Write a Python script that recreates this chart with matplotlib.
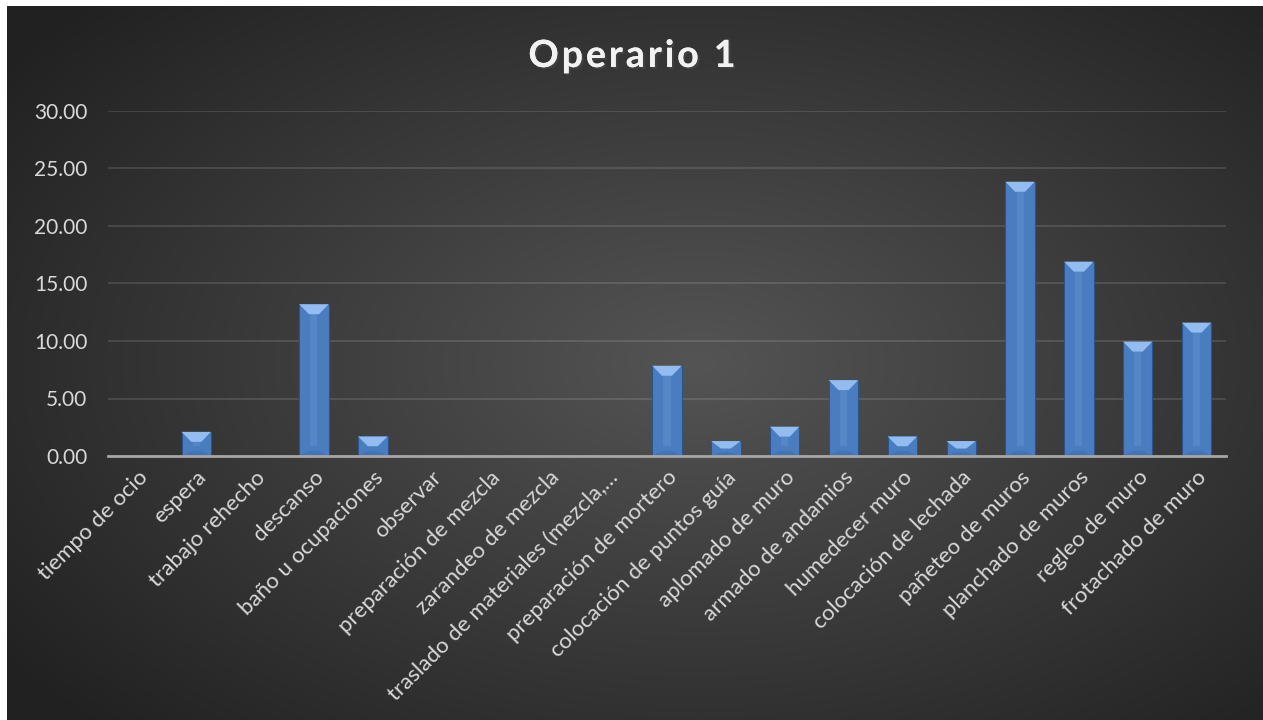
import matplotlib
matplotlib.use("Agg")
import matplotlib.pyplot as plt
import matplotlib.patheffects as pe
import numpy as np
from matplotlib.patches import Polygon

plt.rcParams["font.family"] = ["Lato", "DejaVu Sans"]

actividades = [
    "tiempo de ocio", "espera", "trabajo rehecho", "descanso", "baño u ocupaciones",
    "observar", "preparación de mezcla", "zarandeo de mezcla",
    "traslado de materiales (mezcla,…", "preparación de mortero",
    "colocación de puntos guía", "aplomado de muro", "armado de andamios",
    "humedecer muro", "colocación de lechada", "pañeteo de muros",
    "planchado de muros", "regleo de muro", "frotachado de muro",
]
porcentaje = [0.0, 2.1, 0.0, 13.2, 1.7, 0.0, 0.0, 0.0, 0.0, 7.85,
              1.3, 2.55, 6.6, 1.7, 1.3, 23.85, 16.9, 9.95, 11.6]
y_ticks = [0, 5, 10, 15, 20, 25, 30]

W, H = 1263, 720
fig = plt.figure(figsize=(W / 100, H / 100), dpi=100)
fig.patch.set_facecolor("white")

# fondo oscuro con degradado radial (estilo Excel)
bg = fig.add_axes([7 / W, 0, 1 - 7 / W, 1 - 6 / H])
gy, gx = np.mgrid[-1:1:400j, -1:1:700j]
r = np.clip(np.sqrt(((gx - 0.1) * 0.95) ** 2 + (gy * 0.9) ** 2) / 1.3, 0, 1)
centro, borde = np.array([0.33, 0.33, 0.33]), np.array([0.13, 0.13, 0.13])
img = centro[None, None, :] * (1 - r[..., None]) + borde[None, None, :] * r[..., None]
bg.imshow(img, aspect="auto", extent=[0, 1, 0, 1], interpolation="bilinear")
bg.set_axis_off()

ax = fig.add_axes([108 / W, 1 - 456 / H, (1226 - 108) / W, (456 - 111) / H])
ax.set_facecolor("none")
x = np.arange(len(actividades))
ancho = 0.5
ax.bar(x, porcentaje, width=ancho, color="#4a7dc0", edgecolor="#2c5488",
       linewidth=0.8, zorder=3)

# bisel de cada barra
px_y = 30 / (456 - 111)
for xi, h in zip(x, porcentaje):
    if h <= 0:
        continue
    d = min(10 * px_y, h / 2)
    dx = ancho * 0.33
    x0, x1 = xi - ancho / 2, xi + ancho / 2
    ax.add_patch(Polygon([(x0, h), (x1, h), (x1 - dx, h - d), (x0 + dx, h - d)],
                         closed=True, facecolor="#93bdf0", edgecolor="none", zorder=4))
    ax.add_patch(Polygon([(x0, 0), (x1, 0), (x1 - dx, d * 0.5), (x0 + dx, d * 0.5)],
                         closed=True, facecolor="#4274b3", edgecolor="none", zorder=4))
    ax.add_patch(Polygon([(xi - 0.06, d), (xi + 0.06, d), (xi + 0.06, h - d), (xi - 0.06, h - d)],
                         closed=True, facecolor="#6a9ad6", edgecolor="none", alpha=0.35, zorder=4))

ax.set_xlim(-0.5, len(actividades) - 0.5)
ax.set_ylim(0, 30)
ax.set_yticks(y_ticks)
ax.set_yticklabels([f"{v:.2f}" for v in y_ticks], fontsize=15, color="#d9d9d9")
ax.yaxis.grid(True, color="#ffffff", alpha=0.12, linewidth=1.4, zorder=0)
ax.set_axisbelow(True)
ax.tick_params(axis="y", length=0, pad=15)
ax.set_xticks(x)
ax.set_xticklabels(actividades, rotation=45, ha="right", va="top",
                   rotation_mode="anchor", fontsize=16, color="#d9d9d9")
ax.tick_params(axis="x", length=0, pad=8)
for lado in ["left", "right", "top"]:
    ax.spines[lado].set_visible(False)
ax.spines["bottom"].set_color("#a6a6a6")
ax.spines["bottom"].set_linewidth(2)
ax.spines["bottom"].set_zorder(5)

# título con espaciado entre letras
titulo = "Operario 1"
estilo = dict(fontsize=27, fontweight="bold", color="#f2f2f2",
              path_effects=[pe.withSimplePatchShadow(offset=(1.5, -1.5), alpha=0.6), pe.Normal()])
renderer = fig.canvas.get_renderer()
espacio = 3
anchos = []
for c in titulo:
    t = fig.text(0, 0, c if c != " " else "\u00a0", **estilo)
    anchos.append(t.get_window_extent(renderer).width)
    t.remove()
total = sum(anchos) + espacio * (len(titulo) - 1)
xpos = 632 - total / 2
for c, w in zip(titulo, anchos):
    fig.text(xpos / W, 1 - 67 / H, c, ha="left", va="baseline", **estilo)
    xpos += w + espacio

fig.savefig("out.png", dpi=100, facecolor="white")
